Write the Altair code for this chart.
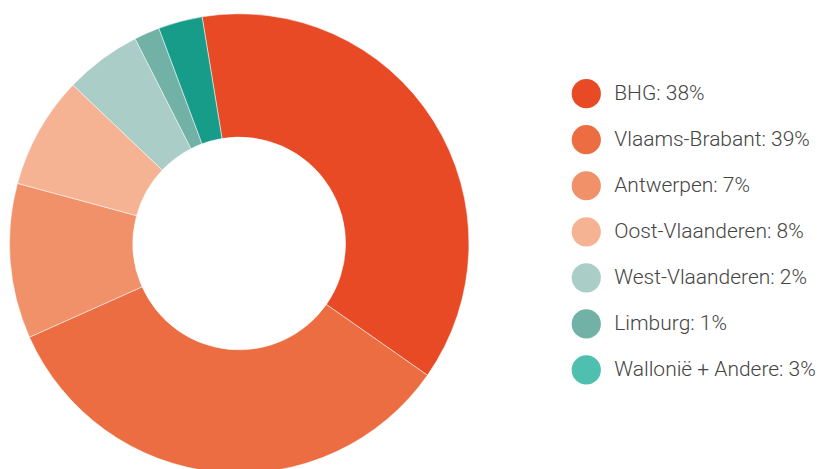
import math
import altair as alt
import pandas as pd

categories = ["BHG", "Vlaams-Brabant", "Antwerpen", "Oost-Vlaanderen",
              "West-Vlaanderen", "Limburg", "Wallonië + Andere"]
values = [37.3, 33.6, 10.9, 7.9, 5.4, 1.8, 3.1]
legend_labels = ["BHG: 38%", "Vlaams-Brabant: 39%", "Antwerpen: 7%",
                 "Oost-Vlaanderen: 8%", "West-Vlaanderen: 2%", "Limburg: 1%",
                 "Wallonië + Andere: 3%"]
slice_colors = ["#E84A26", "#EC6D42", "#F0916A", "#F5B394",
                "#AACDC7", "#72B2A6", "#179C8A"]
legend_colors = ["#E84A26", "#EC6D42", "#F0916A", "#F5B394",
                 "#AACDC7", "#72B2A6", "#4FC0B0"]

df = pd.DataFrame({
    "cat": categories,
    "value": values,
    "idx": list(range(len(categories))),
    "label": legend_labels,
})

start = math.radians(-9.3)

pie = alt.Chart(df).mark_arc(
    outerRadius=230, innerRadius=106.5, stroke="white", strokeWidth=0.5
).encode(
    theta=alt.Theta("value:Q", stack=True,
                    scale=alt.Scale(range=[start, start + 2 * math.pi])),
    order=alt.Order("idx:Q"),
    color=alt.Color("cat:N", scale=alt.Scale(domain=categories, range=slice_colors),
                    legend=None),
    x=alt.value(230.5),
    y=alt.value(235.5),
).properties(width=461, height=453)

ypos = alt.Y("cat:N", axis=None,
             scale=alt.Scale(type="point", domain=categories, range=[85.5, 362.1],
                             padding=0))

dots = alt.Chart(df).mark_point(filled=True, opacity=1, size=855, shape="circle").encode(
    x=alt.value(16),
    y=ypos,
    color=alt.Color("cat:N", scale=alt.Scale(domain=categories, range=legend_colors),
                    legend=None),
)

texts = alt.Chart(df).mark_text(
    align="left", baseline="middle", font="Roboto", fontSize=21,
    fontWeight=300, color="#444444"
).encode(
    x=alt.value(44),
    y=ypos,
    text="label:N",
)

legend = alt.layer(dots, texts).properties(width=200, height=453)

chart = alt.hconcat(pie, legend, spacing=100).resolve_scale(
    color="independent"
).properties(padding=0).configure_view(stroke=None)

chart.save("out.html", embed_options={"renderer": "svg", "actions": False})
